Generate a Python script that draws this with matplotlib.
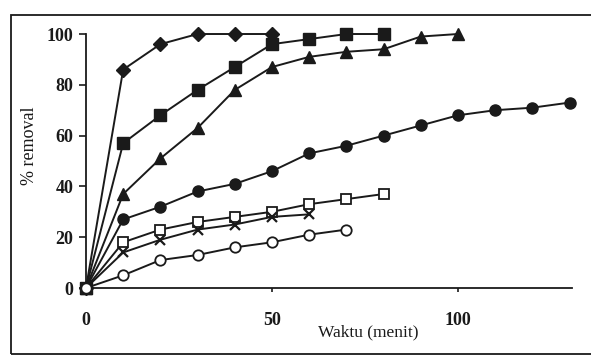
import matplotlib
matplotlib.use("Agg")
import matplotlib.pyplot as plt
from matplotlib.patches import Rectangle

# ---- data ----
x_diamond = [0, 10, 20, 30, 40, 50]
y_diamond = [0, 86, 96, 100, 100, 100]

x_square = [0, 10, 20, 30, 40, 50, 60, 70, 80]
y_square = [0, 57, 68, 78, 87, 96, 98, 100, 100]

x_triangle = [0, 10, 20, 30, 40, 50, 60, 70, 80, 90, 100]
y_triangle = [0, 37, 51, 63, 78, 87, 91, 93, 94, 99, 100]

x_circle = [0, 10, 20, 30, 40, 50, 60, 70, 80, 90, 100, 110, 120, 130]
y_circle = [0, 27, 32, 38, 41, 46, 53, 56, 60, 64, 68, 70, 71, 73]

x_osquare = [0, 10, 20, 30, 40, 50, 60, 70, 80]
y_osquare = [0, 18, 23, 26, 28, 30, 33, 35, 37]

x_cross = [0, 10, 20, 30, 40, 50, 60]
y_cross = [0, 14, 19, 23, 25, 28, 29]

x_ocircle = [0, 10, 20, 30, 40, 50, 60, 70]
y_ocircle = [0, 5, 11, 13, 16, 18, 21, 23]

xticks = [0, 50, 100]
yticks = [0, 20, 40, 60, 80, 100]

plt.rcParams['font.family'] = ['Liberation Serif', 'DejaVu Serif']

fig = plt.figure(figsize=(5.91, 3.58), dpi=100)
ax = fig.add_axes([0.1455, 0.1955, 0.822, 0.7095])

ink = '#1a1a1a'
lw = 1.4
common = dict(color=ink, lw=lw, clip_on=False, zorder=3)

ax.plot(x_diamond, y_diamond, marker='D', ms=7, mfc=ink, mec=ink, **common)
ax.plot(x_square, y_square, marker='s', ms=8, mfc=ink, mec=ink, **common)
ax.plot(x_triangle, y_triangle, marker='^', ms=8.5, mfc=ink, mec=ink, **common)
ax.plot(x_circle, y_circle, marker='o', ms=8, mfc=ink, mec=ink, **common)
ax.plot(x_osquare, y_osquare, marker='s', ms=7.5, mfc='white', mec=ink, mew=1.3, **common)
ax.plot(x_cross, y_cross, marker='x', ms=7.5, mec=ink, mew=1.6, **common)
ax.plot(x_ocircle, y_ocircle, marker='o', ms=7.5, mfc='white', mec=ink, mew=1.3, **common)

ax.set_xlim(0, 130.6)
ax.set_ylim(0, 100)
ax.set_xticks(xticks)
ax.set_yticks(yticks)

for s in ['top', 'right']:
    ax.spines[s].set_visible(False)
for s in ['left', 'bottom']:
    ax.spines[s].set_color(ink)
    ax.spines[s].set_linewidth(1.3)

ax.tick_params(axis='y', direction='out', length=5, width=1.2, colors=ink,
               labelsize=13, pad=4)
ax.tick_params(axis='x', direction='out', length=3, width=1.2, colors=ink,
               labelsize=13, pad=14)
for lab in ax.get_xticklabels() + ax.get_yticklabels():
    lab.set_fontweight('bold')

ax.set_ylabel('% removal', fontsize=13, color=ink)
ax.yaxis.set_label_coords(-0.098, 0.56)
fig.text(0.623, 0.072, 'Waktu (menit)', fontsize=12.5, color=ink, ha='center', va='center')

fig.patches.append(Rectangle((0.018, 0.01), 1.2, 0.948, transform=fig.transFigure,
                             fill=False, ec=ink, lw=1.3))

fig.savefig('out.png', dpi=100, facecolor='white')
